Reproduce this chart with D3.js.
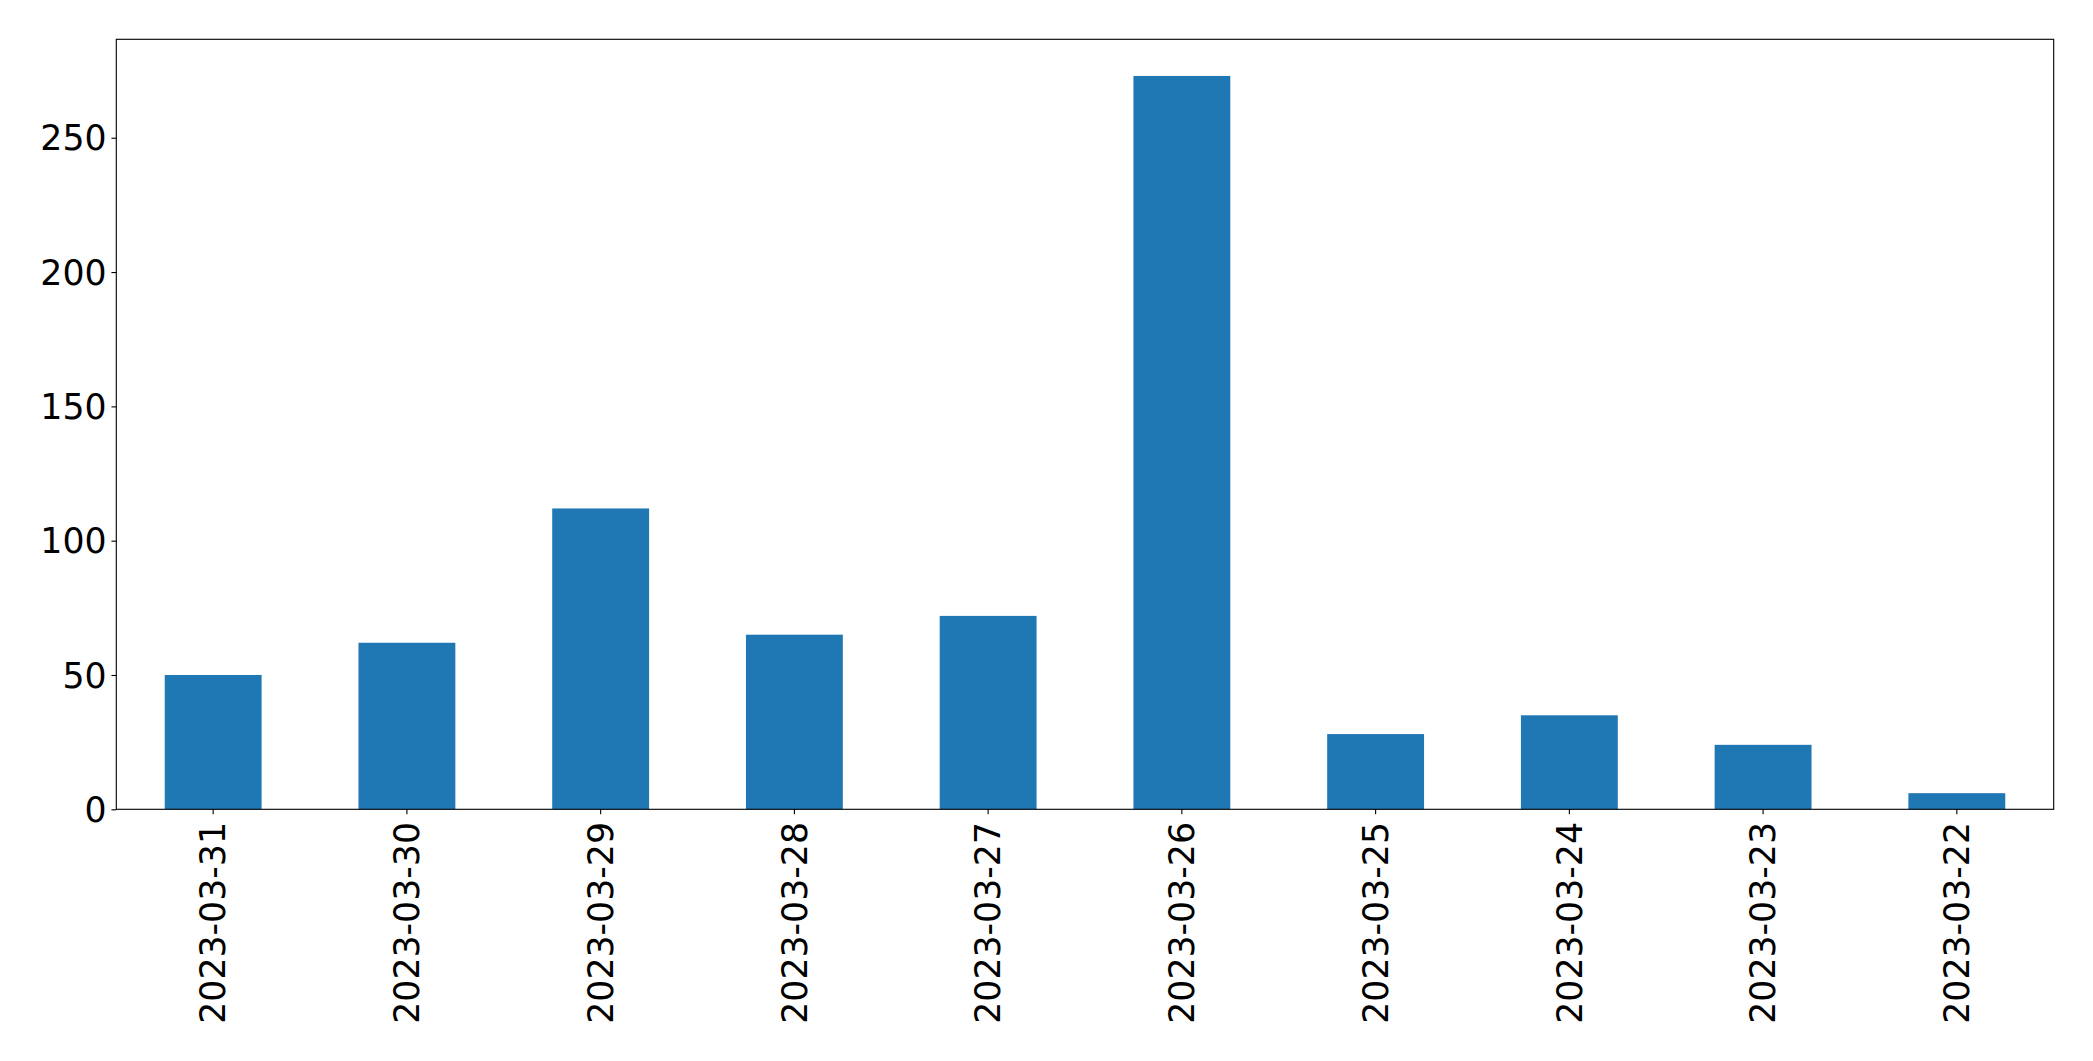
<!DOCTYPE html>
<html>
<head>
<meta charset="utf-8">
<script src="https://cdn.jsdelivr.net/npm/d3@7"></script>
<style>
  html, body { margin: 0; padding: 0; background: #fff; }
  svg { display: block; }
  text { font-family: "DejaVu Sans", sans-serif; fill: #000; }
</style>
</head>
<body>
<script>
const categories = ["2023-03-31","2023-03-30","2023-03-29","2023-03-28","2023-03-27","2023-03-26","2023-03-25","2023-03-24","2023-03-23","2023-03-22"];
const values = [50, 62, 112, 65, 72, 273, 28, 35, 24, 6];
const yTicks = [0, 50, 100, 150, 200, 250];

const W = 2093, H = 1061;
const margin = { left: 116.3, top: 39.3, right: W - 2053.7, bottom: H - 809.3 };
const pw = W - margin.left - margin.right;
const ph = H - margin.top - margin.bottom;
const fontSize = 34.72;
const tickLen = 4.86, pad = 4.86;

const svg = d3.select("body").append("svg").attr("width", W).attr("height", H);
const g = svg.append("g").attr("transform", `translate(${margin.left},${margin.top})`);

const x = d3.scaleBand().domain(categories).range([0, pw]).paddingInner(0.5).paddingOuter(0.25);
const y = d3.scaleLinear().domain([0, d3.max(values) * 1.05]).range([ph, 0]);

g.selectAll("rect.bar").data(values).join("rect")
  .attr("class", "bar")
  .attr("x", (d, i) => x(categories[i]))
  .attr("width", x.bandwidth())
  .attr("y", d => y(d))
  .attr("height", d => y(0) - y(d))
  .attr("fill", "#1f77b4");

const yAxis = g.append("g").call(d3.axisLeft(y).tickValues(yTicks).tickSize(tickLen).tickPadding(pad).tickFormat(d3.format("d")));
yAxis.select(".domain").remove();
yAxis.selectAll("line").attr("stroke", "#000").attr("stroke-width", 1.11);
yAxis.selectAll("text").attr("font-size", fontSize).attr("font-family", "DejaVu Sans").attr("dy", "0.35em");

const xAxis = g.append("g").attr("transform", `translate(0,${ph})`)
  .call(d3.axisBottom(x).tickSize(tickLen).tickPadding(pad));
xAxis.select(".domain").remove();
xAxis.selectAll("line").attr("stroke", "#000").attr("stroke-width", 1.11);
xAxis.selectAll("text")
  .attr("font-size", fontSize)
  .attr("font-family", "DejaVu Sans")
  .attr("text-anchor", "end")
  .attr("dy", "0.35em")
  .attr("y", 0)
  .attr("transform", `translate(0,${tickLen + pad + 3}) rotate(-90)`);

g.append("rect").attr("x", 0).attr("y", 0).attr("width", pw).attr("height", ph)
  .attr("fill", "none").attr("stroke", "#000").attr("stroke-width", 1.11);
</script>
</body>
</html>
